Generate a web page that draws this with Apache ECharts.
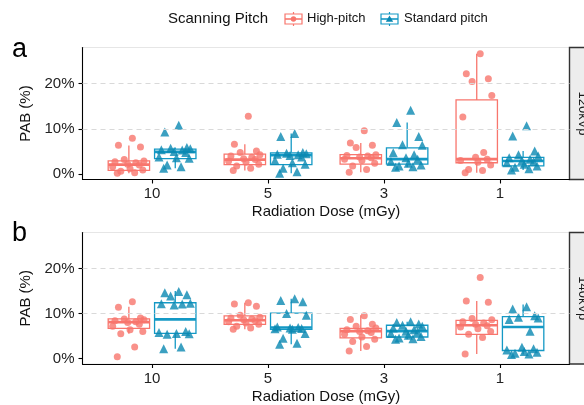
<!DOCTYPE html>
<html>
<head>
<meta charset="utf-8">
<script src="https://cdn.jsdelivr.net/npm/echarts@6/dist/echarts.min.js"></script>
<style>
html, body { margin: 0; padding: 0; background: #fff; }
#chart { width: 584px; height: 405px; }
</style>
</head>
<body>
<div id="chart"></div>
<script>
// categories (radiation dose, mGy) and facet labels
const doses = ["10", "5", "3", "1"];
const kvp = ["120kVp", "140kVp"];
const yTicks = [0, 10, 20];

// box stats per dose: [lower whisker, Q1, median, Q3, upper whisker] (%)
const boxA_high = [[0.2, 0.8, 2.1, 2.9, 6.3], [0.8, 2.1, 3.2, 4.4, 6.6], [0.4, 2.2, 3.5, 4.3, 6.9], [0.3, 2.5, 3.3, 16.4, 26.6]];
const boxA_std = [[1.3, 3.4, 4.9, 5.5, 5.9], [0.2, 2.1, 4.2, 4.7, 9.0], [1.5, 2.2, 3.3, 5.8, 11.4], [0.9, 1.8, 2.9, 3.7, 5.1]];
const boxB_high = [[5.5, 6.7, 8.1, 8.8, 11.5], [6.5, 7.6, 8.5, 9.5, 12.4], [1.7, 4.6, 6.1, 6.7, 9.6], [1.0, 5.4, 7.4, 8.5, 12.8]];
const boxB_std = [[2.2, 5.6, 8.7, 12.4, 15.0], [3.2, 6.5, 6.9, 10.1, 13.3], [4.3, 4.8, 6.1, 7.4, 8.2], [0.9, 1.8, 7.0, 9.3, 12.0]];

// individual PAB values per dose (%)
const ptsA_high = [
  [7.9, 6.4, 6.0, 3.2, 2.9, 2.7, 2.5, 2.2, 2.0, 1.6, 1.2, 0.9, 0.6, 0.3, 0.2],
  [12.8, 6.6, 5.1, 4.8, 4.3, 4.0, 3.7, 3.4, 3.2, 2.9, 2.6, 2.2, 1.8, 1.3, 0.8],
  [9.6, 6.9, 6.4, 5.9, 4.3, 4.1, 4.0, 3.8, 3.6, 3.3, 3.0, 2.4, 1.8, 1.0, 0.4],
  [26.6, 22.2, 21.1, 20.5, 17.4, 12.6, 4.8, 3.7, 3.3, 3.0, 2.6, 2.0, 1.0, 0.8, 0.3]
];
const ptsA_std = [
  [10.8, 9.3, 5.9, 5.7, 5.6, 5.4, 5.3, 5.0, 4.8, 3.8, 3.6, 3.5, 2.0, 1.6, 1.3],
  [9.0, 8.3, 4.8, 4.6, 4.5, 4.4, 4.3, 4.1, 3.8, 3.0, 2.5, 2.2, 1.3, 0.5, 0.2],
  [14.1, 11.4, 8.3, 6.5, 6.4, 4.7, 4.3, 3.6, 3.3, 2.8, 2.4, 2.0, 1.8, 1.6, 1.5],
  [10.7, 8.4, 5.1, 4.3, 4.0, 3.6, 3.3, 3.0, 2.8, 2.5, 2.2, 1.8, 1.5, 1.2, 0.9]
];
const ptsB_high = [
  [12.6, 11.4, 9.0, 8.8, 8.6, 8.4, 8.2, 8.0, 7.6, 7.2, 6.4, 6.0, 5.5, 2.6, 0.4],
  [12.4, 12.1, 11.6, 9.6, 9.2, 9.0, 8.8, 8.6, 8.4, 8.2, 7.9, 7.6, 7.2, 6.8, 6.5],
  [9.5, 8.7, 7.6, 7.2, 6.8, 6.4, 6.2, 6.0, 5.8, 5.4, 4.8, 4.3, 3.8, 2.7, 1.7],
  [18.0, 12.8, 12.5, 8.9, 8.6, 8.2, 7.9, 7.6, 7.3, 7.0, 6.6, 6.0, 5.4, 4.7, 1.0]
];
const ptsB_std = [
  [14.9, 14.6, 14.2, 13.9, 12.3, 12.2, 12.1, 11.9, 6.0, 5.8, 5.6, 5.5, 5.4, 2.6, 2.2],
  [13.3, 12.9, 12.6, 10.0, 9.6, 7.0, 6.9, 6.8, 6.7, 6.6, 6.5, 5.6, 4.5, 3.4, 3.2],
  [8.2, 8.0, 7.7, 7.4, 7.2, 6.8, 6.4, 6.1, 5.9, 5.6, 5.2, 4.9, 4.6, 4.4, 4.3],
  [11.5, 11.0, 9.5, 9.2, 9.0, 8.7, 6.1, 2.5, 2.2, 1.9, 1.6, 1.4, 1.2, 1.0, 0.9]
];

const FONT = '"Liberation Sans", Arial, Helvetica, sans-serif';
const SALMON = "#F8766D";
const TEAL = "#1499C5";
const TEAL_PT = "#0A88B2";
const DODGE = 0.2;      // box offset from category centre
const BOX_W = 0.357;    // box width in category units
// fixed horizontal jitter (category units) for the points
const JITTER = [0.03, -0.09, 0.1, -0.04, 0.13, -0.12, 0.06, -0.01, 0.09, -0.14, 0.01, 0.12, -0.07, 0.05, -0.1];

const panels = [
  { top: 47.5, height: 132, high: boxA_high, std: boxA_std, hp: ptsA_high, sp: ptsA_std, letter: "a", letterY: 50 },
  { top: 232.5, height: 131.5, high: boxB_high, std: boxB_std, hp: ptsB_high, sp: ptsB_std, letter: "b", letterY: 234 }
];

function boxRenderer(color) {
  return function (params, api) {
    const x = api.value(0);
    const lo = api.coord([x, api.value(1)]);
    const q1 = api.coord([x, api.value(2)]);
    const md = api.coord([x, api.value(3)]);
    const q3 = api.coord([x, api.value(4)]);
    const hi = api.coord([x, api.value(5)]);
    const half = api.size([BOX_W, 0])[0] / 2;
    const ls = { stroke: color, lineWidth: 1.3, fill: null };
    return {
      type: "group",
      children: [
        { type: "line", shape: { x1: lo[0], y1: lo[1], x2: q1[0], y2: q1[1] }, style: ls },
        { type: "line", shape: { x1: q3[0], y1: q3[1], x2: hi[0], y2: hi[1] }, style: ls },
        { type: "rect", shape: { x: q3[0] - half, y: q3[1], width: half * 2, height: q1[1] - q3[1] },
          style: { fill: "#fff", stroke: color, lineWidth: 1.3 } },
        { type: "line", shape: { x1: md[0] - half, y1: md[1], x2: md[0] + half, y2: md[1] },
          style: { stroke: color, lineWidth: 2.6 } }
      ]
    };
  };
}

function boxData(stats, off) {
  return stats.map((s, k) => [k + off].concat(s));
}
function pointData(groups, off) {
  const out = [];
  groups.forEach((vals, k) => vals.forEach((v, j) => out.push([k + off + JITTER[j % JITTER.length], v])));
  return out;
}

const grid = [], xAxis = [], yAxis = [], series = [], graphic = [];

panels.forEach((p, i) => {
  grid.push({ left: 82.5, top: p.top, width: 487, height: p.height, show: true,
    borderColor: "#e6e6e6", borderWidth: 1, backgroundColor: "transparent" });
  xAxis.push({
    type: "value", gridIndex: i, min: -0.6, max: 3.6,
    name: "Radiation Dose (mGy)", nameLocation: "middle", nameGap: 25,
    nameTextStyle: { fontSize: 15, color: "#111", fontFamily: FONT },
    axisLine: { onZero: false, lineStyle: { color: "#000", width: 1.1 } },
    axisTick: { customValues: [0, 1, 2, 3], length: 4, lineStyle: { color: "#000", width: 1.1 } },
    axisLabel: { customValues: [0, 1, 2, 3], formatter: v => doses[Math.round(v)],
      fontSize: 15, color: "#222", margin: 7, fontFamily: FONT },
    splitLine: { show: false }
  });
  yAxis.push({
    type: "value", gridIndex: i, min: -1.2, max: 28,
    name: "PAB (%)", nameLocation: "middle", nameGap: 44, nameRotate: 90,
    nameTextStyle: { fontSize: 15, color: "#111", fontFamily: FONT },
    axisLine: { onZero: false, lineStyle: { color: "#000", width: 1.1 } },
    axisTick: { customValues: yTicks, length: 4, lineStyle: { color: "#000", width: 1.1 } },
    axisLabel: { customValues: yTicks, formatter: v => v + "%", fontSize: 15, color: "#222", margin: 8, fontFamily: FONT },
    splitLine: { show: false }
  });

  // dashed grid lines at the major ticks above 0
  series.push({
    type: "line", xAxisIndex: i, yAxisIndex: i, data: [], z: 1, silent: true,
    markLine: { silent: true, symbol: "none", label: { show: false }, animation: false,
      lineStyle: { type: [5, 4], color: "#d9d9d9", width: 1 },
      data: yTicks.filter(t => t > 0).map(t => ({ yAxis: t })) }
  });
  series.push({ type: "custom", name: "High-pitch", xAxisIndex: i, yAxisIndex: i, z: 2,
    renderItem: boxRenderer(SALMON), encode: { x: 0, y: [1, 2, 3, 4, 5] }, data: boxData(p.high, -DODGE) });
  series.push({ type: "custom", name: "Standard pitch", xAxisIndex: i, yAxisIndex: i, z: 2,
    renderItem: boxRenderer(TEAL), encode: { x: 0, y: [1, 2, 3, 4, 5] }, data: boxData(p.std, DODGE) });
  series.push({ type: "scatter", xAxisIndex: i, yAxisIndex: i, z: 3, symbol: "circle", symbolSize: 7,
    itemStyle: { color: SALMON }, data: pointData(p.hp, -DODGE) });
  series.push({ type: "scatter", xAxisIndex: i, yAxisIndex: i, z: 3, symbol: "triangle", symbolSize: 9,
    itemStyle: { color: TEAL_PT }, data: pointData(p.sp, DODGE) });

  // facet strip on the right
  graphic.push({ type: "rect", shape: { x: 569.5, y: p.top, width: 30, height: p.height },
    style: { fill: "#ededed", stroke: "#333", lineWidth: 1.4 } });
  graphic.push({ type: "text", x: 583, y: p.top + p.height / 2, rotation: -Math.PI / 2,
    style: { text: kvp[i], fontSize: 13, fontFamily: FONT, fill: "#1a1a1a", align: "center", verticalAlign: "middle" } });
  // panel letter
  graphic.push({ type: "text", x: 12, y: p.letterY,
    style: { text: p.letter, fontSize: 27, fontFamily: FONT, fill: "#000", verticalAlign: "middle" } });
});

// legend (centred over the panels)
function legendKey(cx, cy, color, ptColor, tri) {
  const children = [
    { type: "line", shape: { x1: cx, y1: cy - 7, x2: cx, y2: cy + 7 }, style: { stroke: color, lineWidth: 1.2 } },
    { type: "rect", shape: { x: cx - 8.5, y: cy - 5, width: 17, height: 10 }, style: { fill: "#fff", stroke: color, lineWidth: 1.2 } },
    { type: "line", shape: { x1: cx - 8.5, y1: cy, x2: cx + 8.5, y2: cy }, style: { stroke: color, lineWidth: 1.6 } }
  ];
  if (tri) {
    children.push({ type: "polygon", shape: { points: [[cx, cy - 3.6], [cx - 3.7, cy + 2.7], [cx + 3.7, cy + 2.7]] }, style: { fill: ptColor } });
  } else {
    children.push({ type: "circle", shape: { cx: cx, cy: cy, r: 2.7 }, style: { fill: ptColor } });
  }
  return { type: "group", children: children };
}
graphic.push({ type: "text", x: 168, y: 18.5, style: { text: "Scanning Pitch", fontSize: 15, fontFamily: FONT, fill: "#111", verticalAlign: "middle" } });
graphic.push(legendKey(293.5, 19, SALMON, SALMON, false));
graphic.push({ type: "text", x: 307, y: 18.5, style: { text: "High-pitch", fontSize: 13, fontFamily: FONT, fill: "#111", verticalAlign: "middle" } });
graphic.push(legendKey(389.5, 19, TEAL, TEAL_PT, true));
graphic.push({ type: "text", x: 404, y: 18.5, style: { text: "Standard pitch", fontSize: 13, fontFamily: FONT, fill: "#111", verticalAlign: "middle" } });

const chart = echarts.init(document.getElementById("chart"));
chart.setOption({
  animation: false,
  backgroundColor: "#fff",
  grid: grid,
  xAxis: xAxis,
  yAxis: yAxis,
  series: series,
  graphic: graphic
});
</script>
</body>
</html>
